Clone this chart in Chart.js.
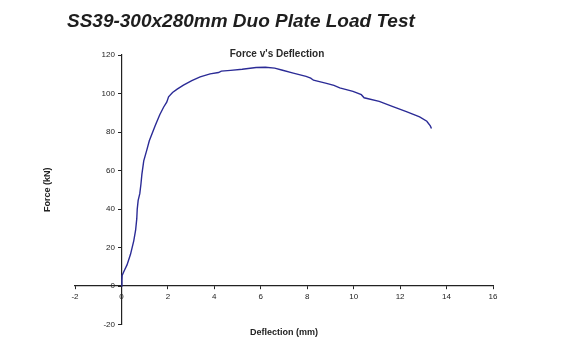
<!DOCTYPE html>
<html>
<head>
<meta charset="utf-8">
<script src="https://cdn.jsdelivr.net/npm/chart.js@4.4.1/dist/chart.umd.min.js"></script>
<style>
html,body{margin:0;padding:0;background:#fff;}
canvas{display:block;}
</style>
</head>
<body>
<canvas id="c" width="561" height="356"></canvas>
<script>
const mainTitle = "SS39-300x280mm Duo Plate Load Test";
const chartTitle = "Force v's Deflection";
const xTitle = "Deflection (mm)";
const yTitle = "Force (kN)";

const deflection = [0, 0.02, 0.03, 0.12, 0.24, 0.39, 0.53, 0.61, 0.66, 0.68, 0.72, 0.79, 0.84, 0.88, 0.96, 1.1, 1.2, 1.46, 1.65, 1.82, 1.95, 2.03, 2.2, 2.4, 2.67, 3.03, 3.39, 3.82, 4.18, 4.3, 4.7, 5.2, 5.8, 6.2, 6.6, 6.9, 7.4, 7.95, 8.15, 8.27, 8.83, 9.15, 9.4, 9.97, 10.33, 10.45, 11.1, 11.69, 12.27, 12.84, 13.15, 13.3, 13.35];
const force = [0, 3, 5.5, 8, 11, 16.5, 23.5, 29, 35, 40, 44.5, 48, 53, 58, 65, 71, 75.5, 83.5, 89, 93, 95.5, 98.3, 100.5, 102.3, 104.4, 106.7, 108.6, 110.2, 110.9, 111.6, 112, 112.6, 113.5, 113.6, 113.2, 112.2, 110.6, 108.9, 108.0, 106.9, 105.3, 104.2, 102.9, 101.1, 99.4, 97.8, 95.9, 93.2, 90.6, 87.9, 85.6, 83.2, 81.8];

const xTicks = [-2, 0, 2, 4, 6, 8, 10, 12, 14, 16];
const yTicks = [-20, 0, 20, 40, 60, 80, 100, 120];

const points = deflection.map((d, i) => ({x: d, y: force[i]}));

const FONT = '"Liberation Sans", Arial, sans-serif';

const textPlugin = {
  id: 'texts',
  afterDraw(chart) {
    const ctx = chart.ctx;
    const xs = chart.scales.x, ys = chart.scales.y;
    ctx.save();
    // y tick labels, placed by the library's scales
    ctx.fillStyle = '#222';
    ctx.font = '8px ' + FONT;
    ctx.textAlign = 'right';
    ctx.textBaseline = 'middle';
    const axisX = xs.getPixelForValue(0);
    yTicks.forEach(v => ctx.fillText(String(v), axisX - 6.5, ys.getPixelForValue(v)));
    // titles
    ctx.fillStyle = '#1e1e1e';
    ctx.font = 'italic bold 19px ' + FONT;
    ctx.textAlign = 'left';
    ctx.textBaseline = 'alphabetic';
    ctx.fillText(mainTitle, 67, 27);
    ctx.fillStyle = '#2a2a2a';
    ctx.font = 'bold 10px ' + FONT;
    ctx.textAlign = 'center';
    ctx.textBaseline = 'middle';
    ctx.fillText(chartTitle, 277, 54);
    ctx.restore();
  }
};

const tickFont = {family: FONT, size: 8};
const titleFont = {family: FONT, size: 9, weight: 'bold', lineHeight: 1.2};

new Chart(document.getElementById('c'), {
  type: 'scatter',
  data: {
    datasets: [{
      data: points,
      showLine: true,
      borderColor: '#2b2b96',
      borderWidth: 1.4,
      pointRadius: 0,
      tension: 0,
      fill: false
    }]
  },
  options: {
    responsive: false,
    animation: false,
    layout: {padding: {left: 40, right: 68, top: 55, bottom: 18}},
    plugins: {legend: {display: false}, tooltip: {enabled: false}, title: {display: false}},
    scales: {
      x: {
        type: 'linear',
        position: {y: 0},
        min: xTicks[0], max: xTicks[xTicks.length - 1],
        afterBuildTicks: s => { s.ticks = xTicks.map(v => ({value: v})); },
        ticks: {font: tickFont, color: '#222', padding: 3, maxRotation: 0},
        grid: {display: true, drawOnChartArea: false, drawTicks: true, tickLength: 3, color: '#222', tickWidth: 1},
        border: {display: true, color: '#222', width: 1.2}
      },
      y: {
        type: 'linear',
        position: {x: 0},
        min: yTicks[0], max: yTicks[yTicks.length - 1],
        afterBuildTicks: s => { s.ticks = yTicks.map(v => ({value: v})); },
        ticks: {display: false},
        grid: {display: true, drawOnChartArea: false, drawTicks: true, tickLength: 3, color: '#222', tickWidth: 1},
        border: {display: true, color: '#222', width: 1.2}
      },
      y2: {
        type: 'linear', axis: 'y', position: 'left', min: 0, max: 1,
        ticks: {display: false},
        grid: {display: false, drawTicks: false},
        border: {display: false},
        title: {display: true, text: yTitle, font: titleFont, color: '#222', padding: {top: 2.6, bottom: 21.6}}
      },
      x2: {
        type: 'linear', axis: 'x', position: 'bottom', min: 0, max: 1,
        ticks: {display: false},
        grid: {display: false, drawTicks: false},
        border: {display: false},
        title: {display: true, text: xTitle, font: titleFont, color: '#222', padding: {top: 2.6, bottom: 0}}
      }
    }
  },
  plugins: [textPlugin]
});
</script>
</body>
</html>
